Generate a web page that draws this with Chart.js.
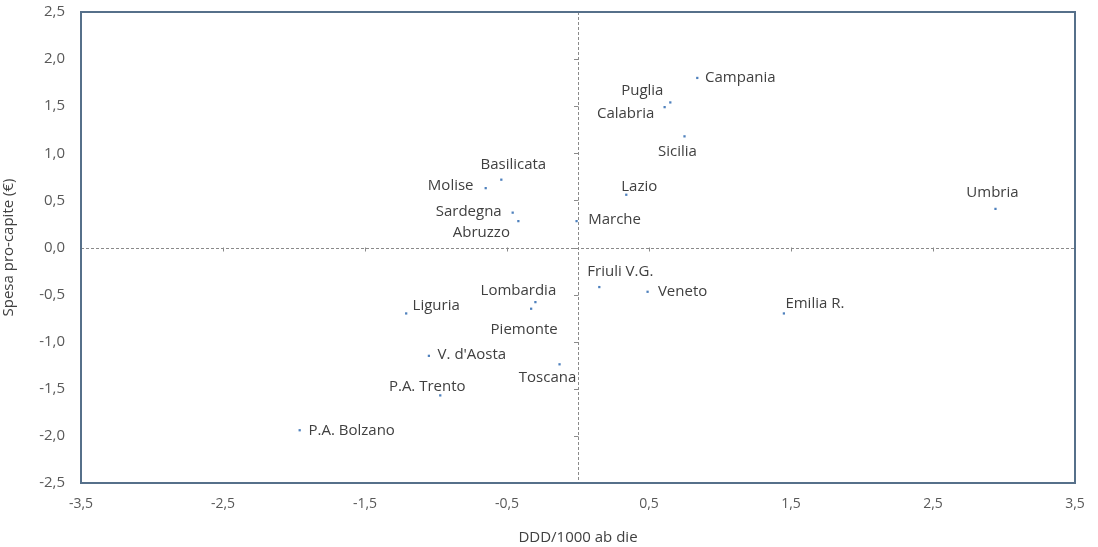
<!DOCTYPE html>
<html>
<head>
<meta charset="utf-8">
<script src="https://cdn.jsdelivr.net/npm/chart.js@4.4.1/dist/chart.umd.min.js"></script>
<style>
  html, body { margin: 0; padding: 0; background: #ffffff; }
  #wrap { width: 1098px; height: 547px; position: relative; }
</style>
</head>
<body>
<div id="wrap"><canvas id="c" width="1098" height="547"></canvas></div>
<script>
// ---- data ----
const regions = ["Campania","Puglia","Calabria","Sicilia","Lazio","Marche","Basilicata","Molise","Sardegna","Abruzzo","Umbria","Friuli V.G.","Veneto","Emilia R.","Lombardia","Piemonte","Liguria","V. d'Aosta","Toscana","P.A. Trento","P.A. Bolzano"];
const dddValues = [0.84, 0.65, 0.61, 0.75, 0.34, -0.01, -0.54, -0.65, -0.46, -0.42, 2.94, 0.15, 0.49, 1.45, -0.30, -0.33, -1.21, -1.05, -0.13, -0.97, -1.96];
const spesaValues = [1.80, 1.54, 1.49, 1.18, 0.56, 0.28, 0.72, 0.63, 0.37, 0.28, 0.41, -0.42, -0.47, -0.70, -0.58, -0.65, -0.70, -1.15, -1.24, -1.57, -1.94];
const xTickValues = [-3.5, -2.5, -1.5, -0.5, 0.5, 1.5, 2.5, 3.5];
const yTickValues = [-2.5, -2.0, -1.5, -1.0, -0.5, 0.0, 0.5, 1.0, 1.5, 2.0, 2.5];
const xTitle = "DDD/1000 ab die";
const yTitle = "Spesa pro-capite (€)";

// ---- label placement (style: offset of label centre from its point, px) ----
const labelOffsets = [[43,0],[-28,-12],[-39,7],[-7,15],[13,-8],[38,-1],[12,-15],[-35,-2],[-44,-1],[-37,12],[-3,-16],[21,-15],[35,0],[31,-10],[-17,-11],[-7,21],[30,-8],[43,-1],[-12,13],[-13,-9],[52,0]];

const FONT = "'Open Sans', Lato, sans-serif";
const fmt = v => Number(v).toFixed(1).replace('.', ',');

const points = dddValues.map((x, i) => ({ x: x, y: spesaValues[i] }));

const framePlugin = {
  id: 'frameAndAxes',
  beforeDatasetsDraw(chart) {
    const { ctx, chartArea: a, scales } = chart;
    const x0 = scales.x.getPixelForValue(0);
    const y0 = scales.y.getPixelForValue(0);
    ctx.save();
    ctx.strokeStyle = '#8a8a8a';
    ctx.lineWidth = 1;
    ctx.setLineDash([3, 2]);
    ctx.beginPath();
    ctx.moveTo(Math.round(x0) + 0.5, a.top); ctx.lineTo(Math.round(x0) + 0.5, a.bottom);
    ctx.moveTo(a.left, Math.round(y0) + 0.5); ctx.lineTo(a.right, Math.round(y0) + 0.5);
    ctx.stroke();
    ctx.setLineDash([]);
    ctx.beginPath();
    yTickValues.forEach(v => {
      const py = Math.round(scales.y.getPixelForValue(v)) + 0.5;
      ctx.moveTo(x0 - 4, py); ctx.lineTo(x0 + 0.5, py);
    });
    xTickValues.forEach(v => {
      const px = Math.round(scales.x.getPixelForValue(v)) + 0.5;
      ctx.moveTo(px, y0); ctx.lineTo(px, y0 + 4);
    });
    ctx.stroke();
    ctx.restore();
  },
  afterDatasetsDraw(chart) {
    const { ctx, chartArea: a } = chart;
    ctx.save();
    ctx.strokeStyle = '#56708a';
    ctx.lineWidth = 2;
    ctx.strokeRect(a.left, a.top, a.right - a.left, a.bottom - a.top);
    // point labels
    const meta = chart.getDatasetMeta(0);
    ctx.font = "15px " + FONT;
    ctx.fillStyle = '#404040';
    ctx.textAlign = 'center';
    ctx.textBaseline = 'middle';
    meta.data.forEach((el, i) => {
      const off = labelOffsets[i] || [0, 0];
      ctx.fillText(regions[i], el.x + off[0], el.y + off[1]);
    });
    ctx.restore();
  }
};

new Chart(document.getElementById('c'), {
  type: 'scatter',
  data: {
    datasets: [{
      label: 'Regioni',
      data: points,
      backgroundColor: '#4f81bd',
      borderColor: '#4f81bd',
      pointRadius: 1.6,
      pointStyle: 'rect',
      borderWidth: 0
    }]
  },
  options: {
    responsive: false,
    animation: false,
    devicePixelRatio: 1,
    layout: { padding: { left: 0, right: 23, top: 12, bottom: 0 } },
    plugins: { legend: { display: false }, tooltip: { enabled: false } },
    scales: {
      x: {
        type: 'linear', min: -3.5, max: 3.5,
        grid: { display: false, drawTicks: false },
        border: { display: false },
        afterBuildTicks: s => { s.ticks = xTickValues.map(v => ({ value: v })); },
        afterFit: s => { s.height = 64; s.paddingLeft = 0; s.paddingRight = 0; },
        ticks: { callback: v => fmt(v), color: '#595959', font: { family: FONT, size: 14 }, padding: 13, maxRotation: 0, autoSkip: false },
        title: { display: true, text: xTitle, color: '#404040', font: { family: FONT, size: 15 }, padding: { top: 2, bottom: 0 } }
      },
      y: {
        type: 'linear', min: -2.5, max: 2.5,
        grid: { display: false, drawTicks: false },
        border: { display: false },
        afterBuildTicks: s => { s.ticks = yTickValues.map(v => ({ value: v })); },
        afterFit: s => { s.width = 81; s.paddingTop = 0; s.paddingBottom = 0; },
        ticks: { callback: v => fmt(v), color: '#595959', font: { family: FONT, size: 15 }, padding: 16, autoSkip: false },
        title: { display: true, text: yTitle, color: '#404040', font: { family: FONT, size: 15 }, padding: { top: 0, bottom: 2 } }
      }
    }
  },
  plugins: [framePlugin]
});
</script>
</body>
</html>
